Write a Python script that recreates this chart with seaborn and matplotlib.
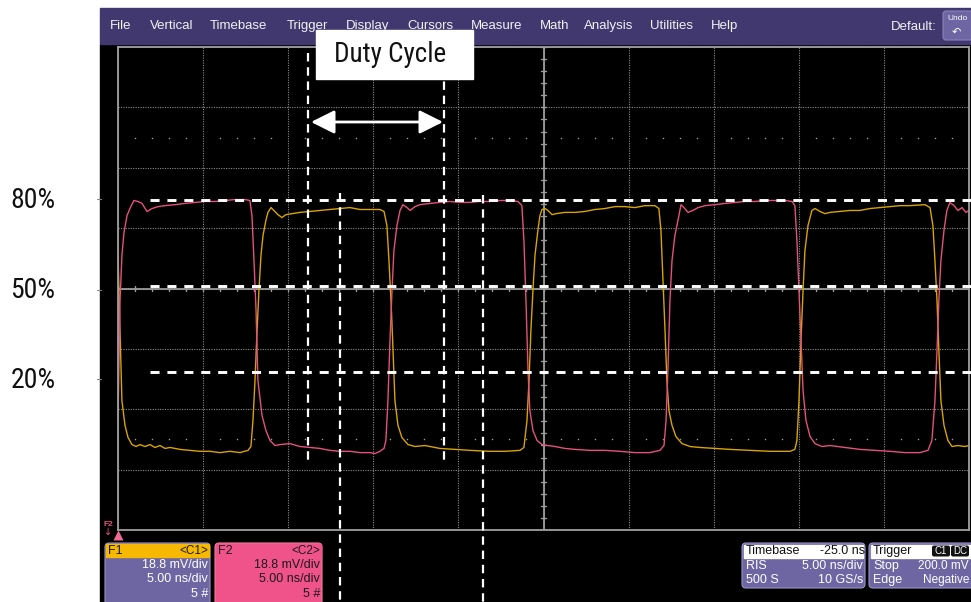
import numpy as np
import pandas as pd
import matplotlib
matplotlib.use("Agg")
import matplotlib.pyplot as plt
import matplotlib.font_manager as fm
import seaborn as sns
from matplotlib.patches import Rectangle, FancyBboxPatch

sns.set_theme(style="dark")
plt.rcParams["font.family"] = ["Liberation Sans", "DejaVu Sans"]
_installed = {f.name for f in fm.fontManager.ttflist}
_cands = ["Roboto Condensed", "Liberation Sans Narrow", "DejaVu Sans Condensed",
          "Open Sans Condensed", "Roboto"]
NARROW = [c for c in _cands if c in _installed][:1] + ["DejaVu Sans"]

# ---------------- data (time in ns, amplitude in mV) ----------------
c1_t = [-25.00, -24.88, -24.77, -24.59, -24.41, -24.18, -23.94, -23.71, -23.41, -23.12,
        -22.83, -22.53, -22.24, -21.94, -21.36, -20.77, -20.18, -19.60, -19.01, -18.42,
        -17.83, -17.36, -17.19, -17.07, -16.95, -16.83, -16.72, -16.60, -16.48, -16.31,
        -16.19, -16.01, -15.84, -15.60, -15.37, -15.13, -14.78, -14.31, -13.72, -13.14,
        -12.55, -11.96, -11.37, -10.78, -10.20, -9.61, -9.37, -9.20, -9.08, -8.96,
        -8.84, -8.73, -8.55, -8.32, -7.96, -7.55, -6.96, -6.08, -5.20, -4.32,
        -3.15, -2.26, -1.38, -1.15, -0.97, -0.85, -0.74, -0.62, -0.50, -0.33,
        -0.21, -0.09, 0.09, 0.26, 0.50, 0.73, 1.26, 1.85, 2.44, 3.02,
        3.61, 4.20, 4.79, 5.37, 5.96, 6.55, 6.78, 6.90, 7.02, 7.14,
        7.25, 7.37, 7.55, 7.78, 8.14, 8.61, 9.19, 10.08, 10.96, 12.13,
        13.31, 14.48, 14.77, 14.89, 15.01, 15.13, 15.25, 15.36, 15.54, 15.77,
        15.95, 16.24, 16.54, 16.83, 17.42, 18.01, 18.59, 19.18, 19.77, 20.36,
        20.94, 21.53, 22.41, 22.71, 22.88, 23.00, 23.12, 23.23, 23.35, 23.53,
        23.76, 24.00, 24.35, 24.76, 25.00]
c1_mv = [10.3, -13.1, -34.9, -42.6, -46.4, -48.6, -49.2, -48.6, -49.2, -48.6,
         -49.5, -48.9, -49.8, -49.5, -50.1, -50.4, -50.7, -50.7, -51.1, -50.7,
         -51.1, -50.4, -49.2, -41.1, -28.6, -13.1, -0.6, 10.3, 16.5, 21.2,
         23.7, 25.2, 24.3, 23.0, 22.1, 23.0, 23.3, 23.7, 24.0, 24.3,
         24.6, 24.9, 25.2, 24.6, 24.6, 24.6, 24.0, 19.6, 8.7, -3.7,
         -19.3, -34.9, -42.6, -46.4, -48.6, -49.2, -48.9, -49.8, -50.1, -50.4,
         -50.7, -50.7, -50.4, -49.5, -41.1, -28.6, -13.1, -0.6, 10.3, 18.1,
         22.7, 24.6, 24.9, 24.3, 23.0, 23.3, 23.7, 23.7, 24.0, 24.6,
         24.9, 25.5, 25.5, 25.2, 25.8, 25.8, 24.9, 18.1, 2.5, -13.1,
         -28.6, -38.0, -42.6, -46.1, -48.3, -49.2, -49.5, -49.8, -50.1, -50.4,
         -50.7, -50.7, -50.1, -47.3, -34.9, -16.2, -0.6, 11.8, 19.6, 24.3,
         24.9, 24.0, 23.3, 23.7, 24.0, 24.3, 24.3, 24.9, 25.2, 25.5,
         25.8, 25.8, 26.1, 25.2, 19.6, 8.7, -3.7, -19.3, -34.9, -42.6,
         -47.3, -49.2, -48.9, -49.2, -48.9]

c2_t = [-25.00, -24.94, -24.88, -24.77, -24.65, -24.47, -24.30, -24.06, -23.83, -23.59,
        -23.30, -23.00, -22.65, -22.24, -21.65, -21.06, -20.48, -19.89, -19.30, -18.71,
        -18.13, -17.54, -17.25, -17.13, -17.01, -16.89, -16.83, -16.78, -16.54, -16.31,
        -16.07, -15.78, -15.48, -14.90, -14.31, -13.72, -13.14, -12.55, -11.96, -11.37,
        -10.78, -10.20, -9.90, -9.61, -9.37, -9.26, -9.14, -9.02, -8.90, -8.79,
        -8.61, -8.43, -8.26, -8.02, -7.84, -7.55, -7.26, -6.67, -6.08, -5.50,
        -4.91, -4.32, -3.73, -3.15, -2.56, -1.97, -1.50, -1.27, -1.15, -1.03,
        -0.91, -0.80, -0.62, -0.38, -0.09, 0.26, 0.67, 1.26, 1.85, 2.73,
        3.61, 4.49, 5.37, 6.26, 6.84, 7.08, 7.20, 7.31, 7.43, 7.55,
        7.72, 7.90, 8.08, 8.25, 8.49, 8.78, 9.08, 9.49, 10.08, 10.66,
        11.25, 11.84, 12.42, 13.01, 13.60, 14.19, 14.60, 14.77, 14.89, 15.01,
        15.13, 15.25, 15.42, 15.66, 15.95, 16.36, 16.83, 17.71, 18.59, 19.47,
        20.36, 21.24, 22.12, 22.59, 22.82, 23.00, 23.12, 23.23, 23.35, 23.53,
        23.70, 23.88, 24.12, 24.35, 24.59, 24.82, 25.00]
c2_mv = [-41.1, -22.4, -3.7, 10.3, 17.4, 22.7, 24.9, 27.4, 27.1, 26.5,
         24.0, 24.9, 25.5, 25.8, 26.1, 26.5, 26.8, 27.1, 27.1, 27.4,
         27.7, 27.7, 27.4, 22.7, 8.7, -6.8, -19.3, -28.6, -39.5, -44.2,
         -47.3, -48.9, -48.6, -48.3, -49.2, -49.5, -49.8, -50.4, -50.7, -50.7,
         -51.1, -51.1, -51.4, -50.7, -49.8, -47.3, -34.9, -16.2, -0.6, 11.8,
         19.6, 24.3, 26.1, 25.2, 24.3, 25.5, 26.1, 26.5, 26.8, 27.1,
         26.8, 26.8, 27.1, 27.1, 27.4, 27.4, 27.1, 25.8, 14.9, -3.7,
         -25.5, -38.0, -44.2, -47.3, -48.6, -48.9, -49.2, -49.8, -50.1, -50.4,
         -50.4, -50.7, -51.1, -51.1, -50.4, -48.9, -41.1, -25.5, -3.7, 8.7,
         16.5, 21.2, 26.1, 25.2, 23.7, 24.3, 25.2, 25.8, 26.1, 26.5,
         26.8, 27.1, 27.1, 27.4, 27.4, 27.4, 27.1, 25.8, 14.9, -0.6,
         -16.2, -31.8, -41.1, -46.1, -48.3, -49.2, -48.9, -49.5, -50.1, -50.4,
         -50.7, -51.1, -51.1, -50.4, -47.3, -34.9, -19.3, -3.7, 8.7, 18.1,
         24.3, 26.8, 25.8, 24.3, 25.2, 23.7, 24.3]

channel_names = ["C1", "C2"]
channel_colors = ["#d9a300", "#e4507f"]

ref_labels = ["80%", "50%", "20%"]
ref_levels_mv = [27.7, 0.9, -26.1]
duty_cycle_label = "Duty Cycle"

menu_labels = ["File", "Vertical", "Timebase", "Trigger", "Display", "Cursors",
               "Measure", "Math", "Analysis", "Utilities", "Help"]

ch_box_titles = [("F1", "<C1>"), ("F2", "<C2>")]
ch_box_lines = ["18.8 mV/div", "5.00 ns/div", "5 #"]
tb_header = ("Timebase", "-25.0 ns")
tb_rows = [("RIS", "5.00 ns/div"), ("500 S", "10 GS/s")]
trig_header = "Trigger"
trig_badges = ["C1", "DC"]
trig_rows = [("Stop", "200.0 mV"), ("Edge", "Negative")]

T_DIV = 5.0      # ns / div
V_DIV = 18.8     # mV / div

# ---------------- figure ----------------
W, H = 971, 602
fig = plt.figure(figsize=(W / 100, H / 100), dpi=100)
fig.patch.set_facecolor("white")

bg = fig.add_axes([0, 0, 1, 1], zorder=0)
bg.set_xlim(0, W); bg.set_ylim(H, 0); bg.axis("off")
bg.add_patch(Rectangle((100, 44), W - 100, H - 44, color="black"))
bg.add_patch(Rectangle((100, 8), W - 100, 36, color="#40386f"))

menu_x = [110, 150, 210, 287, 346, 407, 471, 540, 584, 650, 711]
for lab, x in zip(menu_labels, menu_x):
    bg.text(x, 26, lab, color="#f2f2f2", fontsize=9.5, va="center", ha="left")
bg.text(937, 27, "Default:", color="#f2f2f2", fontsize=9.5, va="center", ha="right")
bg.add_patch(FancyBboxPatch((943, 11), 30, 29, boxstyle="round,pad=0,rounding_size=3",
                            fc="#6d66a3", ec="#8a84bb", lw=0.8))
bg.text(947, 19, "Undo", color="white", fontsize=6, va="center", ha="left")
bg.text(956, 32, "\u21b6", color="white", fontsize=8, va="center", ha="center",
        family=["DejaVu Sans"])

# ---------------- scope graticule axes ----------------
L, R, T, B = 118, 969, 47, 530
ax = fig.add_axes([L / W, (H - B) / H, (R - L) / W, (B - T) / H], zorder=1)
ax.set_facecolor("black")
ax.set_xlim(-5 * T_DIV, 5 * T_DIV)
ax.set_ylim(-4 * V_DIV, 4 * V_DIV)
ax.set_xticks(np.arange(-5, 6) * T_DIV)
ax.set_yticks(np.arange(-4, 5) * V_DIV)
ax.tick_params(length=0, labelbottom=False, labelleft=False)
ax.grid(True, color="#8a8a8a", lw=0.8, linestyle=(0, (1, 1.2)))
for s in ax.spines.values():
    s.set_visible(True); s.set_color("#a0a0a0"); s.set_linewidth(1.3)

ax.axhline(0, color="#9c9c9c", lw=1.3, zorder=1.5)
ax.axvline(0, color="#9c9c9c", lw=1.3, zorder=1.5)
tx = 2.5 / 17.02 * 1.0
ty = 2.5 / 60.4 * V_DIV
for t in np.arange(-25, 25.01, 1.0):
    ax.plot([t, t], [-ty, ty], color="#9c9c9c", lw=1.0, zorder=1.5)
for v in np.arange(-4, 4.01, 0.2) * V_DIV:
    ax.plot([-tx, tx], [v, v], color="#9c9c9c", lw=1.0, zorder=1.5)
dots_t = [t for t in np.arange(-24, 25, 1.0) if abs(t % 5) > 1e-6]
for lev in (2.5 * V_DIV, -2.5 * V_DIV):
    ax.scatter(dots_t, [lev] * len(dots_t), s=1.2, color="#9c9c9c", lw=0, zorder=1.5)

df = pd.concat([
    pd.DataFrame({"t": c1_t, "mV": c1_mv, "ch": channel_names[0]}),
    pd.DataFrame({"t": c2_t, "mV": c2_mv, "ch": channel_names[1]}),
], ignore_index=True)
sns.lineplot(data=df, x="t", y="mV", hue="ch", palette=dict(zip(channel_names, channel_colors)),
             estimator=None, sort=False, legend=False, lw=1.0, ax=ax, zorder=2)
ax.set_xlabel(""); ax.set_ylabel("")

# reference level dashed lines (data levels)
for lev in ref_levels_mv:
    ax.plot([-23.1, 25.2], [lev, lev], color="white", lw=2.1, dashes=(3.1, 2.7),
            clip_on=False, zorder=4)

# ---------------- overlay (annotations, status boxes) ----------------
ov = fig.add_axes([0, 0, 1, 1], zorder=3)
ov.set_xlim(0, W); ov.set_ylim(H, 0); ov.axis("off"); ov.patch.set_alpha(0)

for lab, y in zip(ref_labels, [200, 291, 380]):
    ov.text(33, y, lab, fontsize=20, family=NARROW, color="#111111", ha="center", va="center")
    ov.plot([97, 101], [y - 1, y - 1], color="#888888", lw=0.8)

for x, y0, y1 in [(308, 53, 462), (444, 53, 465), (340, 193, 602), (483, 195, 602)]:
    ov.plot([x, x], [y0, y1], color="white", lw=1.6, dashes=(3.8, 2.6))

ov.add_patch(Rectangle((316, 30), 157, 49, color="white", zorder=5))
ov.text(390, 55, duty_cycle_label, fontsize=19.5, family=NARROW, color="#111111",
        ha="center", va="center", zorder=6)
ov.annotate("", xy=(311, 122), xytext=(443, 122),
            arrowprops=dict(arrowstyle="<|-|>,head_length=0.9,head_width=0.45", color="white",
                            lw=2, mutation_scale=16, shrinkA=0, shrinkB=0))

# trigger / ref markers
ov.text(104, 524, "F2", fontsize=6, color="#e4507f", ha="left", va="center", fontweight="bold")
ov.text(108, 532, "\u2193", fontsize=7, color="#e4507f", ha="center", va="center",
        family=["DejaVu Sans"])
ov.plot([118], [535], marker="^", ms=7, color="#f06a95", mec="none")

# channel boxes
box_fc = ["#6d66a3", "#f0528a"]
head_fc = ["#f7b800", "#f0528a"]
txt_c = ["white", "#1a1a1a"]
for i, (x0, x1) in enumerate([(105, 210), (215, 322)]):
    ov.add_patch(FancyBboxPatch((x0, 543), x1 - x0, 70, boxstyle="round,pad=0,rounding_size=4",
                                fc=box_fc[i], ec="#9a94c8" if i == 0 else "#f07aa0", lw=0.8))
    ov.add_patch(Rectangle((x0 + 1, 544), x1 - x0 - 2, 13, color=head_fc[i]))
    ov.text(x0 + 3, 550.5, ch_box_titles[i][0], fontsize=9, color="#1a1a1a", va="center", ha="left")
    ov.text(x1 - 2, 550.5, ch_box_titles[i][1], fontsize=8.5, color="#1a1a1a", va="center", ha="right")
    for j, line in enumerate(ch_box_lines):
        ov.text(x1 - 2, 565 + j * 14.5, line, fontsize=9, color=txt_c[i], va="center", ha="right")

# timebase box
ov.add_patch(FancyBboxPatch((742, 543), 123, 45, boxstyle="round,pad=0,rounding_size=4",
                            fc="#6d66a3", ec="#9a94c8", lw=0.8))
ov.add_patch(Rectangle((744, 544.5), 119, 13, color="white"))
ov.text(746, 551, tb_header[0], fontsize=9, color="#111111", va="center", ha="left")
ov.text(865, 551, tb_header[1], fontsize=9, color="#111111", va="center", ha="right")
for j, (a, b) in enumerate(tb_rows):
    ov.text(746, 566 + j * 14, a, fontsize=9, color="white", va="center", ha="left")
    ov.text(863, 566 + j * 14, b, fontsize=9, color="white", va="center", ha="right")

# trigger box
ov.add_patch(FancyBboxPatch((869, 543), 110, 45, boxstyle="round,pad=0,rounding_size=4",
                            fc="#6d66a3", ec="#9a94c8", lw=0.8, clip_on=False))
ov.add_patch(Rectangle((871, 544.5), 105, 13, color="white"))
ov.text(873, 551, trig_header, fontsize=9, color="#111111", va="center", ha="left")
for k, (bx, lab) in enumerate(zip([932, 951], trig_badges)):
    ov.add_patch(FancyBboxPatch((bx, 545.5), 18, 11, boxstyle="round,pad=0,rounding_size=2",
                                fc="#111111", ec="none"))
    ov.text(bx + 9, 551, lab, fontsize=7, color="white", va="center", ha="center")
for j, (a, b) in enumerate(trig_rows):
    ov.text(873, 566 + j * 14, a, fontsize=9, color="white", va="center", ha="left")
    ov.text(969, 566 + j * 14, b, fontsize=8.5, color="white", va="center", ha="right")

fig.savefig("out.png", dpi=100, facecolor="white")
